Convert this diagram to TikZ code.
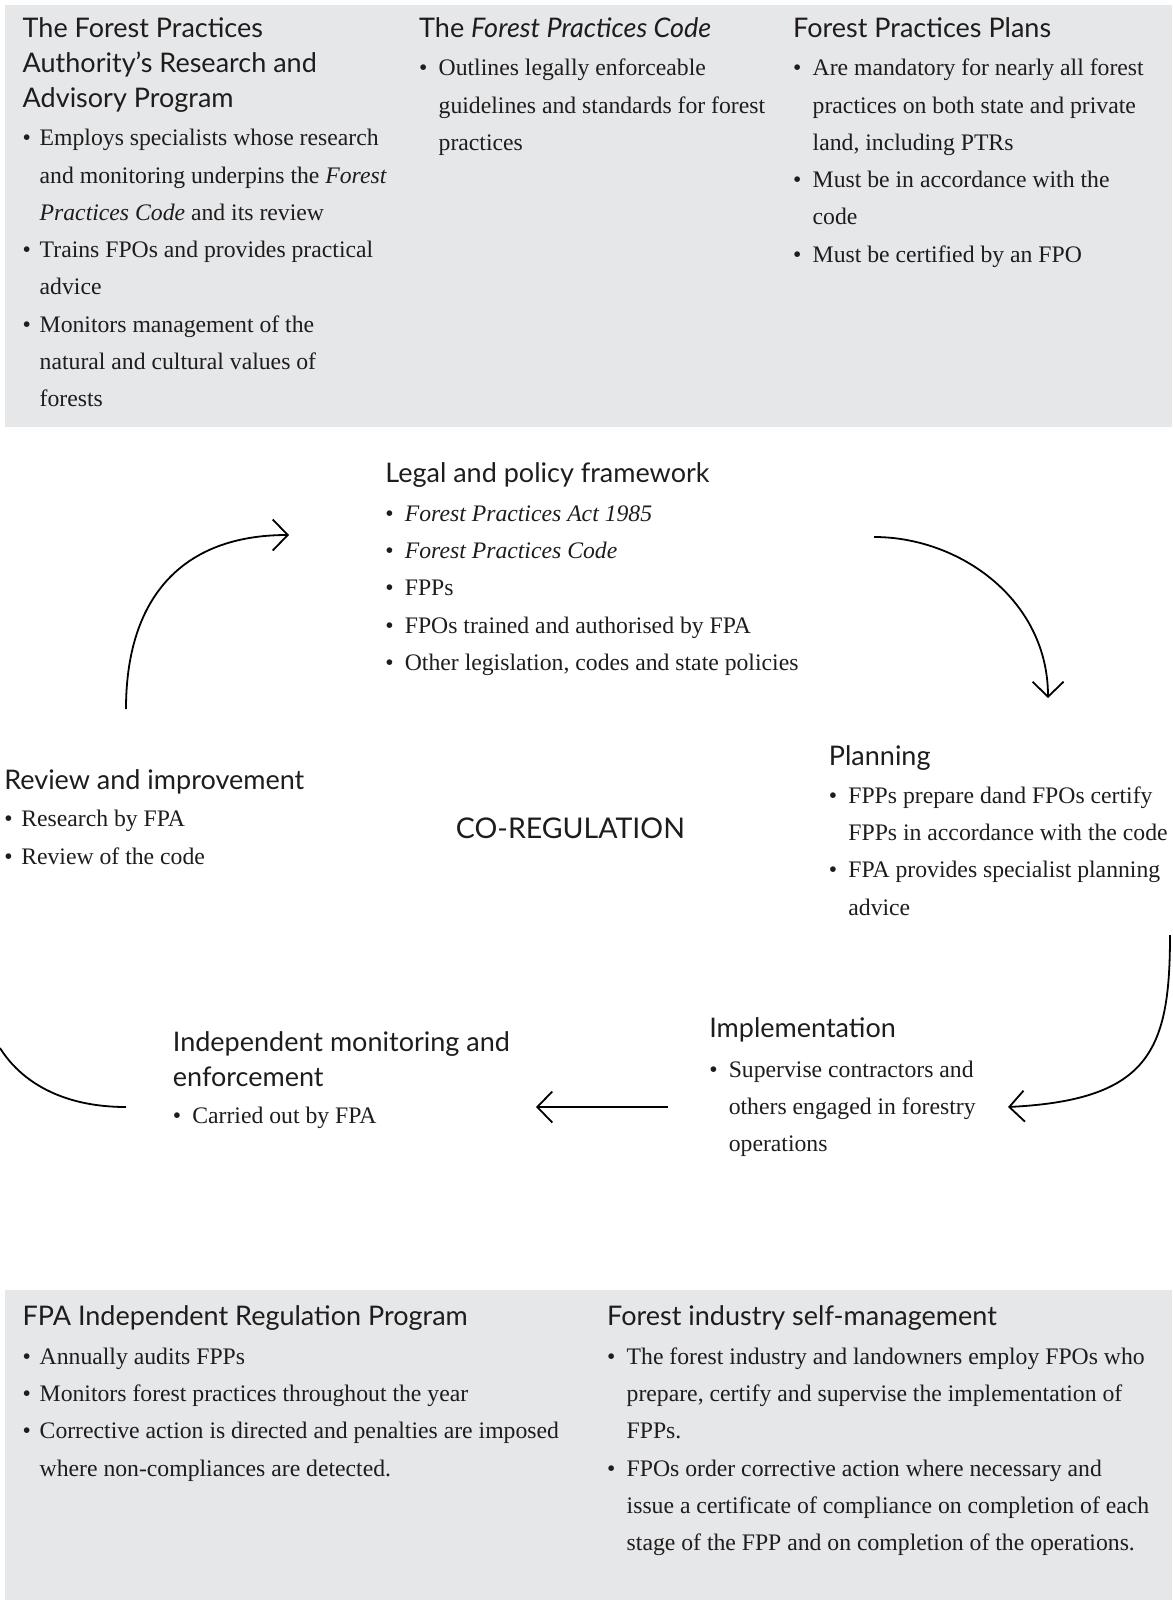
\documentclass[tikz,border=0pt]{standalone}
\usepackage{fontspec}
\usepackage{xcolor}
\usepackage{tikz}
\usetikzlibrary{arrows.meta,positioning}
\setmainfont{Liberation Serif}
\newfontfamily\headfont{Lato}
\definecolor{panelgray}{RGB}{230,231,232}
\definecolor{ink}{RGB}{30,28,29}
\newlength{\bind}
\setlength{\bind}{19.5pt}
\newcommand{\bitem}[1]{\makebox[\bind][l]{\textbullet}#1}
\newcommand{\bcont}[1]{\hspace*{\bind}#1}
\newcommand{\hstrut}{\rule{0pt}{22pt}}
\newcommand{\bstrut}{\rule{0pt}{19pt}}

\begin{document}
\begin{tikzpicture}[
  x=1pt, y=1pt,
  every node/.style={inner sep=0pt, anchor=north west, align=left, text=ink},
  head/.style={font=\headfont\fontsize{27}{35}\selectfont},
  body/.style={font=\fontsize{23.7}{37.3}\selectfont},
  narrow/.style={execute at begin node={\setlength{\bind}{17pt}}},
  panel/.style={fill=panelgray, draw=none},
  flow/.style={line width=1.8pt, -{Straight Barb[length=15pt,width=31pt]}}
]
\useasboundingbox (0,0) rectangle (1172,-1602);
\path[panel] (5,-5) rectangle (1172,-427);
\path[panel] (5,-1290) rectangle (1172,-1600);

% top panel
\node[head] (rap-h) at (22.5,-15.3) {\hstrut The Forest Practices\\Authority’s Research and\\Advisory Program};
\node[body, narrow] (rap-b) at (22.5,-126.5) {\bstrut\bitem{Employs specialists whose research}\\
  \bcont{and monitoring underpins the \textit{Forest}}\\
  \bcont{\textit{Practices Code} and its review}\\
  \bitem{Trains FPOs and provides practical}\\
  \bcont{advice}\\
  \bitem{Monitors management of the}\\
  \bcont{natural and cultural values of}\\
  \bcont{forests}};
\node[head] (code-h) at (419,-15.3) {\hstrut The \textit{Forest Practices Code}};
\node[body] (code-b) at (419,-56.6) {\bstrut\bitem{Outlines legally enforceable}\\
  \bcont{guidelines and standards for forest}\\
  \bcont{practices}};
\node[head] (fpp-h) at (793,-15.3) {\hstrut Forest Practices Plans};
\node[body] (fpp-b) at (793,-56.6) {\bstrut\bitem{Are mandatory for nearly all forest}\\
  \bcont{practices on both state and private}\\
  \bcont{land, including PTRs}\\
  \bitem{Must be in accordance with the}\\
  \bcont{code}\\
  \bitem{Must be certified by an FPO}};

% cycle
\node[head] (legal-h) at (385.2,-460.3) {\hstrut Legal and policy framework};
\node[body] (legal-b) at (385.2,-502.1) {\bstrut\bitem{\textit{Forest Practices Act 1985}}\\
  \bitem{\textit{Forest Practices Code}}\\
  \bitem{FPPs}\\
  \bitem{FPOs trained and authorised by FPA}\\
  \bitem{Other legislation, codes and state policies}};
\node[head] (plan-h) at (828.7,-743.3) {\hstrut Planning};
\node[body] (plan-b) at (828.7,-784.1) {\bstrut\bitem{FPPs prepare dand FPOs certify}\\
  \bcont{FPPs in accordance with the code}\\
  \bitem{FPA provides specialist planning}\\
  \bcont{advice}};
\node[head] (rev-h) at (4.1,-766.8) {\hstrut Review and improvement};
\node[body, narrow] (rev-b) at (4.1,-807.6) {\bstrut\bitem{Research by FPA}\\
  \bitem{Review of the code}};
\node[head, font=\headfont\fontsize{28.5}{35}\selectfont] (coreg) at (455.7,-816.4) {\hstrut CO-REGULATION};
\node[head] (impl-h) at (709.1,-1015.1) {\hstrut Implementation};
\node[body] (impl-b) at (709.1,-1058) {\bstrut\bitem{Supervise contractors and}\\
  \bcont{others engaged in forestry}\\
  \bcont{operations}};
\node[head] (mon-h) at (172.7,-1029.4) {\hstrut Independent monitoring and\\enforcement};
\node[body] (mon-b) at (172.7,-1104) {\bstrut\bitem{Carried out by FPA}};

% bottom panel
\node[head] (irp-h) at (22.5,-1303.3) {\hstrut FPA Independent Regulation Program};
\node[body, narrow] (irp-b) at (22.5,-1345.1) {\bstrut\bitem{Annually audits FPPs}\\
  \bitem{Monitors forest practices throughout the year}\\
  \bitem{Corrective action is directed and penalties are imposed}\\
  \bcont{where non-compliances are detected.}};
\node[head] (self-h) at (607,-1303.3) {\hstrut Forest industry self-management};
\node[body] (self-b) at (607,-1345.1) {\bstrut\bitem{The forest industry and landowners employ FPOs who}\\
  \bcont{prepare, certify and supervise the implementation of}\\
  \bcont{FPPs.}\\
  \bitem{FPOs order corrective action where necessary and}\\
  \bcont{issue a certificate of compliance on completion of each}\\
  \bcont{stage of the FPP and on completion of the operations.}};

% arrow ends
\coordinate (rev-out) at (126,-709);
\coordinate (legal-in) at (289,-535);
\coordinate (legal-out) at (874,-537);
\coordinate (plan-in) at (1048,-698);
\coordinate (plan-out) at (1170,-935);
\coordinate (impl-in) at (1008,-1107);
\coordinate (impl-out) at (668,-1107);
\coordinate (mon-in) at (536,-1107);
\coordinate (mon-out) at (126,-1107);
\coordinate (rev-in) at (0,-1048);

\draw[flow] (rev-out) .. controls +(0,109) and +(-109,0) .. (legal-in);
\draw[flow] (legal-out) .. controls +(86,0) and +(0,98) .. (plan-in);
\draw[flow] (plan-out) .. controls +(0,-115) and +(142,7) .. (impl-in);
\draw[flow] (impl-out) -- (mon-in);
\draw[line width=1.8pt] (mon-out) .. controls +(-66,0) and +(20,-32) .. (rev-in);
\end{tikzpicture}
\end{document}
